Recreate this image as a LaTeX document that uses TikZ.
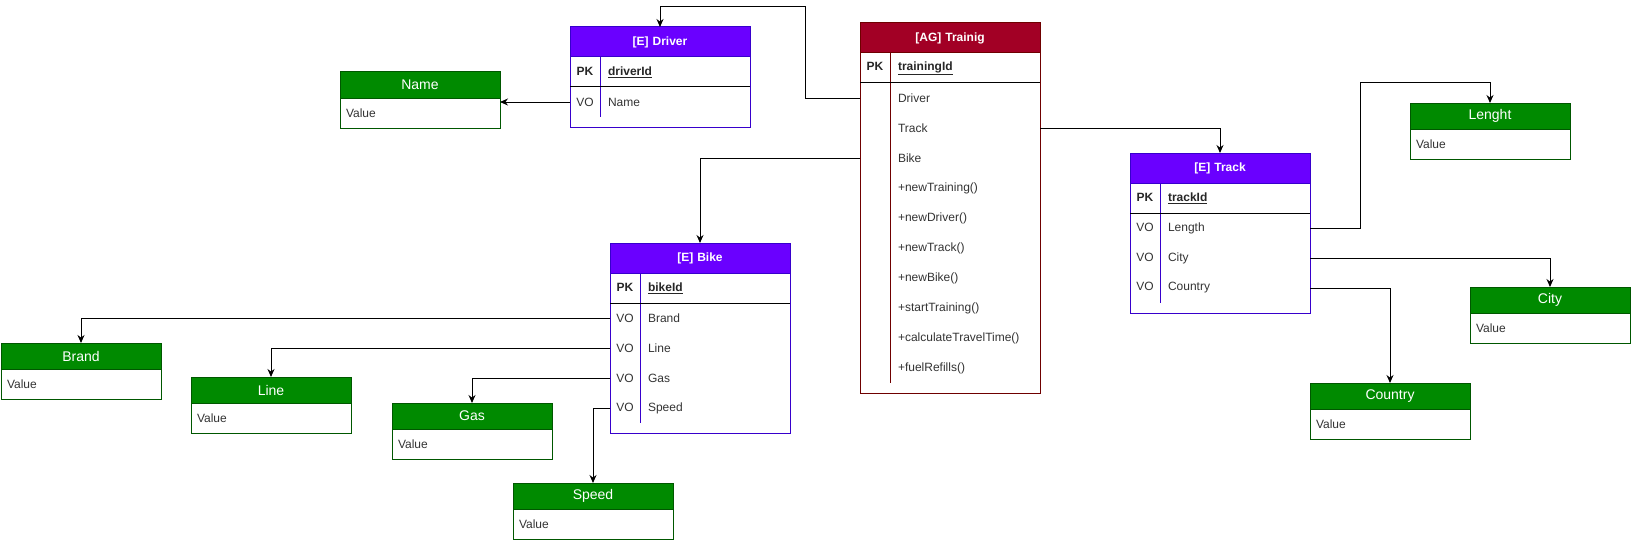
\documentclass[tikz,border=0pt]{standalone}
\usepackage{fontspec}
\setmainfont{Liberation Sans}
\usetikzlibrary{chains, positioning, arrows.meta}
\definecolor{entfill}{HTML}{6A00FF}
\definecolor{entline}{HTML}{3700CC}
\definecolor{aggfill}{HTML}{A20025}
\definecolor{aggline}{HTML}{6F0000}
\definecolor{vofill}{HTML}{008A00}
\definecolor{voline}{HTML}{005700}
\newcommand\keycell[1]{\makebox[30pt]{#1}\hspace{8pt}}

\begin{document}
\begin{tikzpicture}[%
        x = 1pt, y = -1pt,
        line width = 1pt,
        node distance = 0pt,
        every node/.style = {outer sep = 0pt, inner sep = 0pt},
        my head/.style = {%
          on chain,
          text width = 180pt,
          minimum height = 30pt,
          align = center,
          font = \fontsize{12}{14}\selectfont\bfseries,
          text = white,
          draw = #1line,
          fill = #1fill,
        },
        my row/.style = {%
          on chain,
          text width = 180pt,
          minimum height = 30pt,
          align = left,
          font = \fontsize{12}{14}\selectfont,
          text = black!80,
        },
        my pk/.style = {my row, font = \fontsize{12}{14}\selectfont\bfseries, text = black!85},
        my end/.style = {on chain, text width = 180pt, minimum height = 10pt},
        vo head/.style = {%
          anchor = north west,
          text width = 160pt,
          minimum height = 26pt,
          align = center,
          font = \fontsize{14}{16}\selectfont,
          text = white,
          draw = voline,
          fill = vofill,
        },
        vo body/.style = {%
          below = 0pt of #1,
          text width = 148pt,
          inner xsep = 6pt,
          minimum height = 30pt,
          align = left,
          font = \fontsize{12}{14}\selectfont,
          text = black!80,
          draw = voline,
        },
        link/.style = {-{Stealth[length = 8pt, width = 7pt]}, black},
      ]
      \useasboundingbox (0,0) rectangle (1631,543);

      % [E] Driver
      \begin{scope}[shift = {(570,27)}, start chain = drv going below]
        \node[my head = ent, anchor = north west] (drvHead) at (0,0) {[E] Driver};
        \node[my pk]   (drvPk)   {\keycell{PK}\underline{driverId}};
        \node[my row]  (drvName) {\keycell{VO}Name};
        \node[my end]  (drvEnd)  {};
      \end{scope}
      \draw[entline] (drvHead.north west) rectangle (drvEnd.south east);
      \draw[entline] ([xshift = 30pt]drvPk.north west) -- ([xshift = 30pt]drvName.south west);
      \draw (drvPk.south west) -- (drvPk.south east);

      % [AG] Trainig
      \begin{scope}[shift = {(860,23)}, start chain = trn going below]
        \node[my head = agg, anchor = north west] (trnHead) at (0,0) {[AG] Trainig};
        \node[my pk]  (trnPk)     {\keycell{PK}\underline{trainingId}};
        \node[my row] (trnDriver) {\keycell{}Driver};
        \node[my row] (trnTrack)  {\keycell{}Track};
        \node[my row] (trnBike)   {\keycell{}Bike};
        \node[my row] (trnNewTrn) {\keycell{}+newTraining()};
        \node[my row] (trnNewDrv) {\keycell{}+newDriver()};
        \node[my row] (trnNewTrk) {\keycell{}+newTrack()};
        \node[my row] (trnNewBik) {\keycell{}+newBike()};
        \node[my row] (trnStart)  {\keycell{}+startTraining()};
        \node[my row] (trnCalc)   {\keycell{}+calculateTravelTime()};
        \node[my row] (trnFuel)   {\keycell{}+fuelRefills()};
        \node[my end] (trnEnd)    {};
      \end{scope}
      \draw[aggline] (trnHead.north west) rectangle (trnEnd.south east);
      \draw[aggline] ([xshift = 30pt]trnPk.north west) -- ([xshift = 30pt]trnFuel.south west);
      \draw (trnPk.south west) -- (trnPk.south east);

      % [E] Track
      \begin{scope}[shift = {(1130,153)}, start chain = trk going below]
        \node[my head = ent, anchor = north west] (trkHead) at (0,0) {[E] Track};
        \node[my pk]  (trkPk)      {\keycell{PK}\underline{trackId}};
        \node[my row] (trkLength)  {\keycell{VO}Length};
        \node[my row] (trkCity)    {\keycell{VO}City};
        \node[my row] (trkCountry) {\keycell{VO}Country};
        \node[my end] (trkEnd)     {};
      \end{scope}
      \draw[entline] (trkHead.north west) rectangle (trkEnd.south east);
      \draw[entline] ([xshift = 30pt]trkPk.north west) -- ([xshift = 30pt]trkCountry.south west);
      \draw (trkPk.south west) -- (trkPk.south east);

      % [E] Bike
      \begin{scope}[shift = {(610,243)}, start chain = bik going below]
        \node[my head = ent, anchor = north west] (bikHead) at (0,0) {[E] Bike};
        \node[my pk]  (bikPk)    {\keycell{PK}\underline{bikeId}};
        \node[my row] (bikBrand) {\keycell{VO}Brand};
        \node[my row] (bikLine)  {\keycell{VO}Line};
        \node[my row] (bikGas)   {\keycell{VO}Gas};
        \node[my row] (bikSpeed) {\keycell{VO}Speed};
        \node[my end] (bikEnd)   {};
      \end{scope}
      \draw[entline] (bikHead.north west) rectangle (bikEnd.south east);
      \draw[entline] ([xshift = 30pt]bikPk.north west) -- ([xshift = 30pt]bikSpeed.south west);
      \draw (bikPk.south west) -- (bikPk.south east);

      % value objects
      \node[vo head] (nameHead) at (340,72) {Name};
      \node[vo body = nameHead] (nameBody) {Value};
      \node[vo head] (lenHead) at (1410,103) {Lenght};
      \node[vo body = lenHead] (lenBody) {Value};
      \node[vo head] (cityHead) at (1470,287) {City};
      \node[vo body = cityHead] (cityBody) {Value};
      \node[vo head] (ctryHead) at (1310,383) {Country};
      \node[vo body = ctryHead] (ctryBody) {Value};
      \node[vo head] (brandHead) at (1,343) {Brand};
      \node[vo body = brandHead] (brandBody) {Value};
      \node[vo head] (lineHead) at (191,377) {Line};
      \node[vo body = lineHead] (lineBody) {Value};
      \node[vo head] (gasHead) at (392,403) {Gas};
      \node[vo body = gasHead] (gasBody) {Value};
      \node[vo head] (speedHead) at (513,483) {Speed};
      \node[vo body = speedHead] (speedBody) {Value};

      % connectors
      \draw[link] (trnDriver.west) -- ++(-55,0) |- ([yshift = 20pt]drvHead.north) -- (drvHead.north);
      \draw[link] (trnBike.west) -| (bikHead.north);
      \draw[link] (trnTrack.east) -| (trkHead.north);
      \draw[link] (drvName.west) -- (drvName.west -| nameBody.east);
      \draw[link] (trkLength.east) -- ++(50,0) |- ([yshift = 20pt]lenHead.north) -- (lenHead.north);
      \draw[link] (trkCity.east) -| (cityHead.north);
      \draw[link] (trkCountry.east) -| (ctryHead.north);
      \draw[link] (bikBrand.west) -| (brandHead.north);
      \draw[link] (bikLine.west) -| (lineHead.north);
      \draw[link] (bikGas.west) -| (gasHead.north);
      \draw[link] (bikSpeed.west) -| (speedHead.north);
    \end{tikzpicture}
\end{document}
